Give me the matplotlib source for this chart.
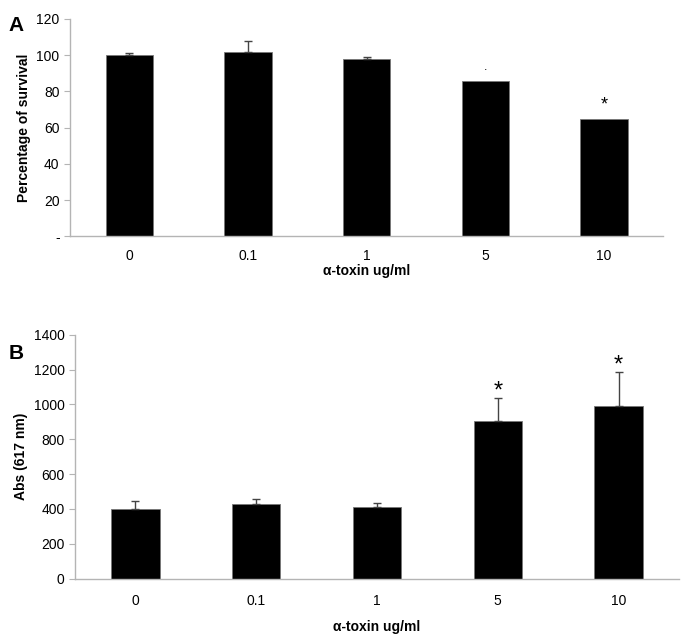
import matplotlib.pyplot as plt
import numpy as np

plt.rcParams['font.family'] = ['Liberation Sans', 'DejaVu Sans']

doses = ["0", "0.1", "1", "5", "10"]
survival = [100, 102, 98, 86, 65]
survival_err = [1, 6, 1, 0, 0]
survival_marks = ["", "", "", ".", "*"]
abs617 = [400, 430, 413, 905, 993]
abs617_err = [46, 27, 23, 134, 195]
abs_marks = ["", "", "", "*", "*"]

axis_gray = "#b4b4b4"

fig = plt.figure(figsize=(6.83, 6.39), dpi=100)
axA = fig.add_axes([0.1025, 0.630, 0.8685, 0.3404])
axB = fig.add_axes([0.1098, 0.0944, 0.8842, 0.3818])

def style(ax, xpad):
    for s in ["top", "right"]:
        ax.spines[s].set_visible(False)
    for s in ["left", "bottom"]:
        ax.spines[s].set_color(axis_gray)
        ax.spines[s].set_linewidth(1.0)
    ax.tick_params(axis="x", length=0, pad=xpad, labelsize=10)
    ax.tick_params(axis="y", length=4, color=axis_gray, labelsize=10)

def upper_err(ax, xs, ys, errs):
    xs = np.asarray(xs)
    ys = np.asarray(ys)
    errs = np.asarray(errs)
    keep = errs > 0
    ax.errorbar(xs[keep], ys[keep], yerr=[np.zeros(keep.sum()), errs[keep]],
                fmt="none", ecolor="#444444", elinewidth=1, capsize=3)

x = np.arange(len(doses))

# panel A
axA.bar(x, survival, width=0.4, color="black", edgecolor="#777777", linewidth=0.6)
upper_err(axA, x, survival, survival_err)
for i, m in enumerate(survival_marks):
    if m == "*":
        axA.text(x[i], survival[i] + 3, m, ha="center", va="bottom", fontsize=13)
    elif m:
        axA.text(x[i], survival[i] + 4, m, ha="center", va="bottom", fontsize=9)
axA.set_xlim(-0.5, 4.5)
axA.set_ylim(0, 120)
axA.set_yticks(range(0, 121, 20))
axA.set_yticklabels(["-"] + [str(v) for v in range(20, 121, 20)])
axA.set_xticks(x)
axA.set_xticklabels(doses)
axA.set_ylabel("Percentage of survival", fontsize=10, fontweight="bold")
axA.set_xlabel("α-toxin ug/ml", fontsize=10, fontweight="bold", labelpad=1)
style(axA, 9)

# panel B
axB.bar(x, abs617, width=0.4, color="black", edgecolor="#777777", linewidth=0.6)
upper_err(axB, x, abs617, abs617_err)
for i, m in enumerate(abs_marks):
    if m:
        axB.text(x[i], abs617[i] + abs617_err[i] - 30, m, ha="center", va="bottom",
                 fontsize=17)
axB.set_xlim(-0.5, 4.5)
axB.set_ylim(0, 1400)
axB.set_yticks(range(0, 1401, 200))
axB.set_xticks(x)
axB.set_xticklabels(doses)
axB.set_ylabel("Abs (617 nm)", fontsize=10, fontweight="bold")
axB.set_xlabel("α-toxin ug/ml", fontsize=10, fontweight="bold", labelpad=9)
style(axB, 11)

fig.text(0.012, 0.975, "A", fontsize=15, fontweight="bold", va="top")
fig.text(0.012, 0.462, "B", fontsize=15, fontweight="bold", va="top")

fig.savefig("out.png", dpi=100)
